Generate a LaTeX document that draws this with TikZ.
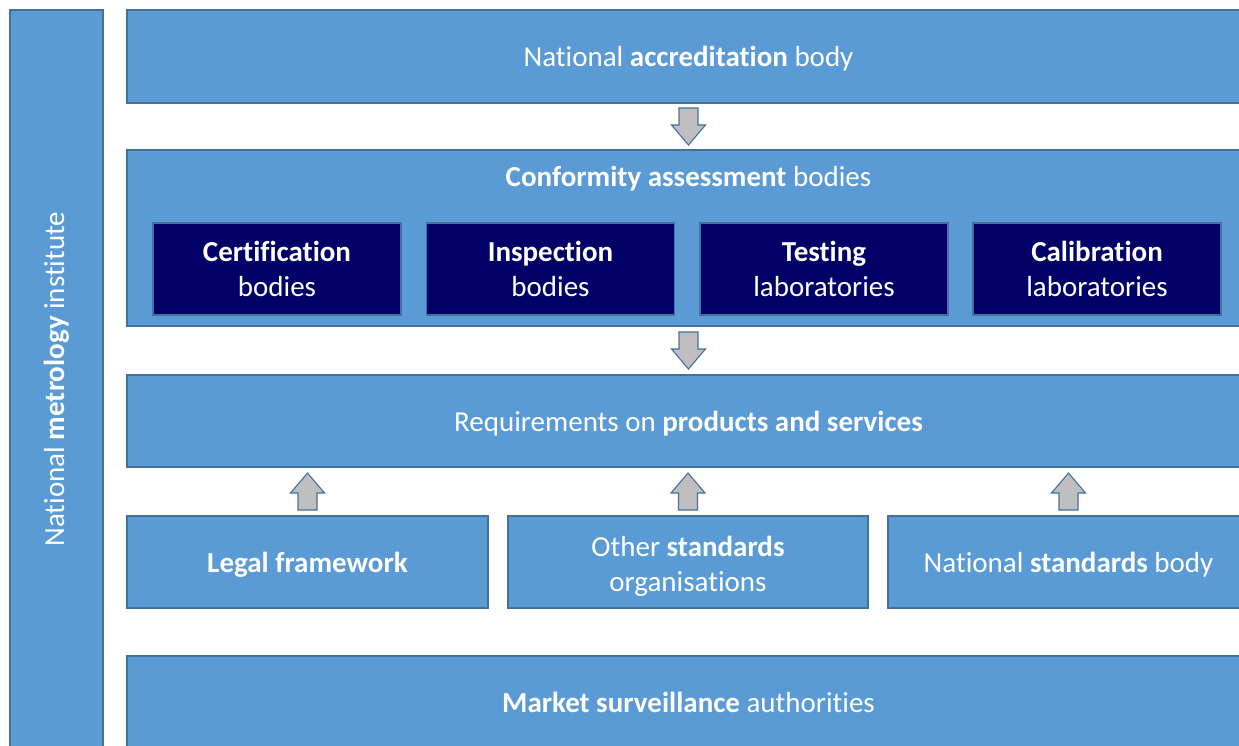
\documentclass[tikz,border=0pt]{standalone}
\usepackage{fontspec}
\setmainfont{Carlito}[Ligatures=NoCommon]
\usetikzlibrary{calc}
\definecolor{officeblue}{HTML}{5B9BD5}
\definecolor{edgeblue}{HTML}{41719C}
\definecolor{navybox}{HTML}{000066}
\definecolor{arrowgray}{HTML}{BFBFBF}

\begin{document}
\begin{tikzpicture}[
  x=1pt, y=-1pt,
  bluebox/.style={rectangle, draw=edgeblue, fill=officeblue, line width=1.3pt,
                inner sep=0pt, text=white, align=center, font=\fontsize{29}{35}\selectfont,
                text height=28pt, text depth=7pt},
  innerbox/.style={rectangle, draw=edgeblue, fill=navybox, line width=1.3pt,
                minimum width=248, minimum height=92, inner sep=0pt, text=white,
                align=center, font=\fontsize{29}{35}\selectfont},
  label/.style={text=white, inner sep=0pt, font=\fontsize{29}{35}\selectfont},
  blockarrow/.style={draw=edgeblue, fill=arrowgray, line width=1.1pt, line join=miter},
  downarrow/.pic={\draw[blockarrow] (-9.5,-18.5) -- (9.5,-18.5) -- (9.5,-1.5) -- (17,-1.5)
                  -- (0,18.5) -- (-17,-1.5) -- (-9.5,-1.5) -- cycle;},
  uparrow/.pic={\draw[blockarrow] (-9.5,18.5) -- (9.5,18.5) -- (9.5,1.5) -- (17,1.5)
                  -- (0,-18.5) -- (-17,1.5) -- (-9.5,1.5) -- cycle;}
]
\useasboundingbox (0,0) rectangle (1239,746);
\clip (0,0) rectangle (1239,746);

% === Left column ===
\node[bluebox, minimum width=93, minimum height=738] (nmi) at (56.5, 379) {};
\node[label, rotate=90] (nmilabel) at (nmi.center) {National \textbf{metrology} institute};

% === Main layers (top to bottom) ===
\node[bluebox, minimum width=1123, minimum height=93] (nab) at (688.5, 56.5)
  {National \textbf{accreditation} body};

\node[bluebox, minimum width=1123, minimum height=176] (cab) at (688.5, 238) {};
\node[label] (cabtitle) at (688.5, 179) {\textbf{Conformity assessment} bodies};

\node[innerbox] (cert)  at (277, 269)    {\textbf{Certification}\\bodies};
\node[innerbox] (insp)  at (550.5, 269)  {\textbf{Inspection}\\bodies};
\node[innerbox] (test)  at (824, 269)    {\textbf{Testing}\\laboratories};
\node[innerbox] (calib) at (1097, 269)   {\textbf{Calibration}\\laboratories};

\node[bluebox, minimum width=1123, minimum height=92] (req) at (688.5, 421)
  {Requirements on \textbf{products and services}};

\node[bluebox, minimum width=361, minimum height=92] (legal) at (307.5, 562)
  {\textbf{Legal framework}};
\node[bluebox, minimum width=360, minimum height=92, text height=66pt] (other) at (688, 562)
  {Other \textbf{standards}\\organisations};
\node[bluebox, minimum width=361, minimum height=92] (nsb) at (1068.5, 562)
  {National \textbf{standards} body};

\node[bluebox, minimum width=1123, minimum height=92] (msa) at (688.5, 702)
  {\textbf{Market surveillance} authorities};

% === Block arrows ===
\path ($(nab.south)!0.5!(cab.north)$) pic {downarrow};
\path ($(cab.south)!0.5!(req.north)$) pic {downarrow};
\path ($(legal.north)!0.5!(legal.north |- req.south)$) pic {uparrow};
\path ($(other.north)!0.5!(other.north |- req.south)$) pic {uparrow};
\path ($(nsb.north)!0.5!(nsb.north |- req.south)$) pic {uparrow};

\end{tikzpicture}
\end{document}
